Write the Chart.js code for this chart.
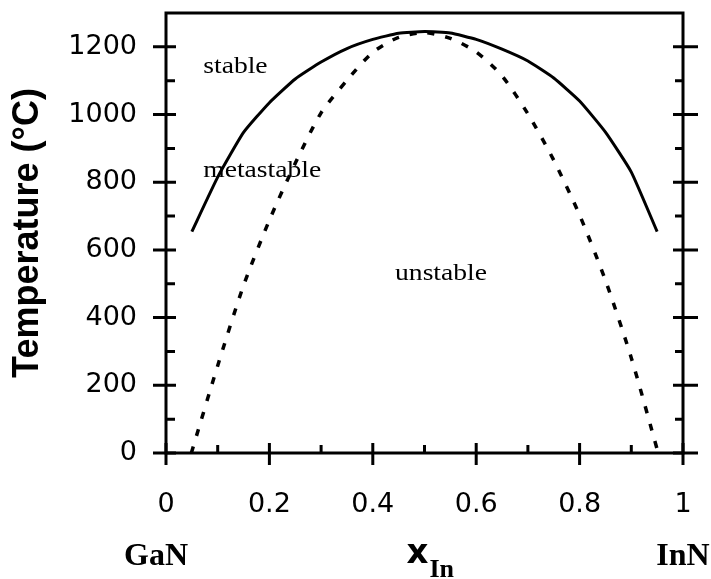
<!DOCTYPE html>
<html>
<head>
<meta charset="utf-8">
<script src="https://cdn.jsdelivr.net/npm/chart.js@4.4.1/dist/chart.umd.min.js"></script>
<style>
body { margin: 0; background: #fff; }
#wrap { width: 711px; height: 579px; }
</style>
</head>
<body>
<div id="wrap"><canvas id="myCanvas" width="711" height="579"></canvas></div>
<script>
// binodal (solid) - every 0.05 in x
var binodalX = [0.05, 0.10, 0.15, 0.20, 0.25, 0.30, 0.35, 0.40, 0.45, 0.50,
                0.55, 0.60, 0.65, 0.70, 0.75, 0.80, 0.85, 0.90, 0.95];
var binodalT = [654, 815, 947, 1035, 1105, 1155, 1195, 1222, 1240, 1245,
                1241, 1222, 1193, 1158, 1108, 1040, 948, 830, 654];

// spinodal (dashed)
var spinodalX = [0.049, 0.10, 0.15, 0.20, 0.25, 0.30, 0.35, 0.40, 0.45, 0.50,
                 0.55, 0.60, 0.65, 0.70, 0.75, 0.80, 0.85, 0.90, 0.952];
var spinodalT = [0, 258, 495, 688, 856, 1005, 1101, 1184, 1228, 1242,
                 1225, 1185, 1114, 1002, 865, 703, 510, 281, 0];

var xTicks = [0, 0.2, 0.4, 0.6, 0.8, 1];
var yTicks = [0, 200, 400, 600, 800, 1000, 1200];

var regionNames = ['stable', 'metastable', 'unstable'];
var regionX = [0.072, 0.072, 0.443];
var regionT = [1124, 815, 511];

function toPoints(xs, ys) {
    var pts = [];
    xs.forEach(function (x, i) { pts.push({x: x, y: ys[i]}); });
    return pts;
}

function isMajorX(v) {
    return xTicks.some(function (t) { return Math.abs(t - v) < 1e-6; });
}

// frame, crossing tick marks and the free text
var decorations = {
    id: 'decorations',
    afterDatasetsDraw: function (chart) {
        var ctx = chart.ctx;
        var a = chart.chartArea;
        var xs = chart.scales.x;
        var ys = chart.scales.y;
        ctx.save();
        ctx.strokeStyle = '#000';
        ctx.lineWidth = 3;
        ctx.strokeRect(a.left, a.top, a.right - a.left, a.bottom - a.top);

        ctx.beginPath();
        ys.ticks.forEach(function (t) {
            if (t.value >= ys.max) return;
            var y = ys.getPixelForValue(t.value);
            var major = yTicks.indexOf(t.value) >= 0;
            ctx.moveTo(a.left - (major ? 13 : 0), y);
            ctx.lineTo(a.left + (major ? 10 : 9), y);
            ctx.moveTo(a.right - (major ? 10 : 8), y);
            ctx.lineTo(a.right + (major ? 15 : 0), y);
        });
        xs.ticks.forEach(function (t) {
            var x = xs.getPixelForValue(t.value);
            var major = isMajorX(t.value);
            ctx.moveTo(x, a.bottom - (major ? 10 : 8));
            ctx.lineTo(x, a.bottom + (major ? 12 : 0));
        });
        ctx.stroke();

        ctx.fillStyle = '#000';
        ctx.textAlign = 'left';
        ctx.textBaseline = 'alphabetic';
        ctx.font = '24px "Liberation Serif"';
        regionNames.forEach(function (n, i) {
            ctx.save();
            ctx.translate(xs.getPixelForValue(regionX[i]), ys.getPixelForValue(regionT[i]));
            ctx.scale(1.15, 1);
            ctx.fillText(n, 0, 0);
            ctx.restore();
        });

        // x title with subscript
        var cx = (a.left + a.right) / 2;
        ctx.font = 'bold 34px "DejaVu Sans"';
        ctx.fillText('x', cx - 18, a.bottom + 110);
        ctx.font = 'bold 26px "Liberation Serif"';
        ctx.fillText('In', cx + 5, a.bottom + 124);

        ctx.textAlign = 'center';
        ctx.font = 'bold 32px "Liberation Serif"';
        ctx.fillText('GaN', xs.getPixelForValue(0) - 10, a.bottom + 112);
        ctx.fillText('InN', xs.getPixelForValue(1), a.bottom + 112);
        ctx.restore();
    }
};

var config = {
    type: 'scatter',
    data: {
        datasets: [{
            label: 'binodal',
            data: toPoints(binodalX, binodalT),
            showLine: true,
            borderColor: '#000',
            borderWidth: 3,
            pointRadius: 0,
            tension: 0.15
        }, {
            label: 'spinodal',
            data: toPoints(spinodalX, spinodalT),
            showLine: true,
            borderColor: '#000',
            borderWidth: 3.5,
            borderDash: [7, 11],
            pointRadius: 0,
            tension: 0.25
        }]
    },
    options: {
        responsive: false,
        animation: false,
        events: [],
        layout: {padding: {left: 0, right: 28, top: 13, bottom: 0}},
        plugins: {legend: {display: false}, tooltip: {enabled: false}},
        scales: {
            x: {
                type: 'linear',
                min: 0,
                max: 1,
                grid: {display: false, drawTicks: false},
                border: {display: false},
                ticks: {
                    stepSize: 0.1,
                    padding: 36,
                    color: '#000',
                    maxRotation: 0,
                    autoSkip: false,
                    font: {family: '"DejaVu Sans"', size: 27},
                    callback: function (v) {
                        if (!isMajorX(v)) return '';
                        var r = Math.round(v * 10) / 10;
                        return r === 0 ? '0' : r === 1 ? '1' : r.toFixed(1);
                    }
                },
                afterFit: function (scale) {
                    scale.height = 126;
                    scale.paddingLeft = 0;
                    scale.paddingRight = 0;
                }
            },
            y: {
                type: 'linear',
                min: 0,
                max: 1300,
                grid: {display: false, drawTicks: false},
                border: {display: false},
                title: {
                    display: true,
                    text: 'Temperature (°C)',
                    color: '#000',
                    padding: {top: 6, bottom: 0},
                    font: {family: '"Liberation Sans"', size: 36, weight: 'bold'}
                },
                ticks: {
                    stepSize: 100,
                    padding: 29,
                    color: '#000',
                    autoSkip: false,
                    font: {family: '"DejaVu Sans"', size: 27},
                    callback: function (v) { return yTicks.indexOf(v) >= 0 ? String(v) : ''; }
                },
                afterFit: function (scale) {
                    scale.width = 166;
                    scale.paddingTop = 0;
                    scale.paddingBottom = 0;
                }
            }
        }
    },
    plugins: [decorations]
};

var myChart = new Chart(document.getElementById('myCanvas'), config);
</script>
</body>
</html>
